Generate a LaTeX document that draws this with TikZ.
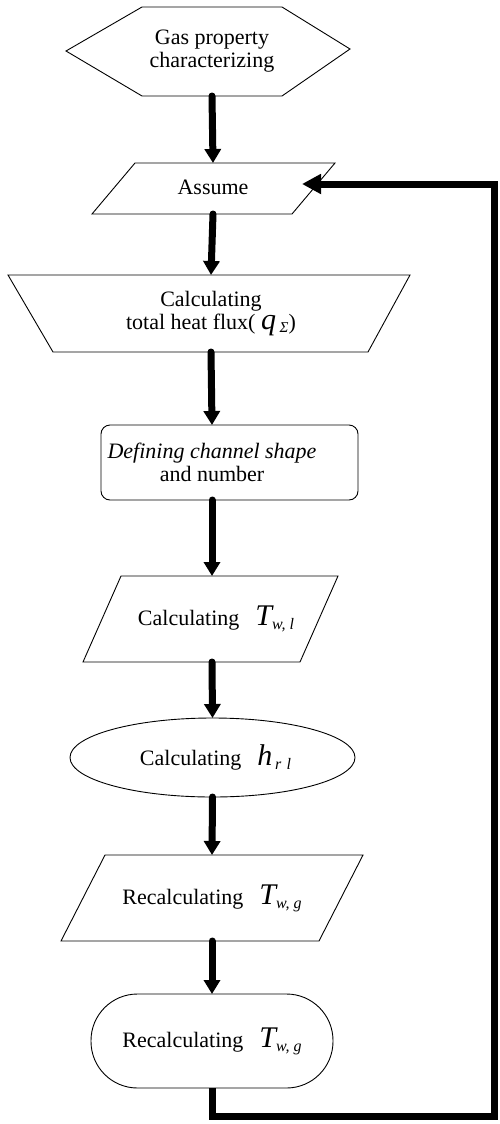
\documentclass[tikz,border=0pt]{standalone}
\usepackage{fontspec}
\setmainfont{Liberation Serif}
\usetikzlibrary{shapes.geometric,arrows.meta}
\newcommand{\bigit}[1]{{\fontsize{30}{30}\selectfont\itshape #1}}
\newcommand{\subit}[1]{\raisebox{-4pt}{\fontsize{16}{16}\selectfont\itshape #1}}
\tikzset{
  outline/.style={draw=black, line width=0.9pt, line join=miter},
  lbl/.style={inner sep=0pt, outer sep=0pt, align=center, font=\fontsize{22}{23}\selectfont},
  flow/.style={line width=7pt, line cap=round, -{Triangle[width=16pt,length=14pt]}},
  back/.style={line width=7pt, line join=miter, -{Triangle[width=19pt,length=19pt]}}
}
\begin{document}
\begin{tikzpicture}[x=1pt,y=-1pt]
\useasboundingbox (0,0) rectangle (499,1124);
% shapes
\draw[outline] (66,51) -- (142,7) -- (282,7) -- (350,49) -- (282,96) -- (142,96) -- cycle;
\draw[outline] (135,163) -- (335,163) -- (292,214) -- (92,214) -- cycle;
\draw[outline] (8,275) -- (410,275) -- (368,352) -- (53,352) -- cycle;
\draw[outline, rounded corners=9pt] (101,425) rectangle (358,500);
\draw[outline] (121,576) -- (338,576) -- (300,662) -- (83,662) -- cycle;
\draw[outline] (212.5,757.5) ellipse [x radius=142.5, y radius=39.5];
\draw[outline] (105,855) -- (363,855) -- (319,941) -- (61,941) -- cycle;
\draw[outline, rounded corners=46.5pt] (91,994) rectangle (333,1088);
% nodes (text and anchors)
\node[lbl, minimum width=140pt, minimum height=89pt] (hex) at (212,51.5) {Gas property\\characterizing};
\node[lbl, minimum width=140pt, minimum height=51pt] (asm) at (213,188.5) {\raisebox{2pt}{Assume}};
\node[lbl, minimum width=140pt, minimum height=77pt] (trap) at (211,313.5) {Calculating\\total heat flux( \bigit{q}\,\raisebox{-3pt}{\fontsize{15}{15}\selectfont\itshape Σ})};
\node[lbl, minimum width=140pt, minimum height=75pt] (def) at (212,462.5) {{\itshape Defining channel shape}\\and number};
\node[lbl, minimum width=140pt, minimum height=86pt] (pw1) at (212,619) {\hspace*{8pt}Calculating\hspace{16pt}\bigit{T}\subit{w, l}};
\node[lbl, minimum width=140pt, minimum height=79pt] (ell) at (212.5,757.5) {\hspace*{6pt}Calculating\hspace{16pt}\bigit{h}\subit{\,r\,\,l}};
\node[lbl, minimum width=140pt, minimum height=86pt] (pw2) at (212,898) {Recalculating\hspace{16pt}\bigit{T}\subit{w, g}};
\node[lbl, minimum width=140pt, minimum height=94pt] (pill) at (212,1041) {Recalculating\hspace{16pt}\bigit{T}\subit{w, g}};
\coordinate (bl) at (212,1116);
\coordinate (br) at (494,1116);
\coordinate (tr) at (494,184);
\coordinate (tip) at (302,184);
% connectors
\draw[flow] (hex.south) -- (asm.north);
\draw[flow] (asm.south) -- (trap.north);
\draw[flow] (trap.south) -- (def.north);
\draw[flow] (def.south) -- (pw1.north);
\draw[flow] (pw1.south) -- (ell.north);
\draw[flow] (ell.south) -- (pw2.north);
\draw[flow] (pw2.south) -- (pill.north);
\draw[back] (pill.south) -- (bl) -- (br) -- (tr) -- (tip);
\end{tikzpicture}
\end{document}
